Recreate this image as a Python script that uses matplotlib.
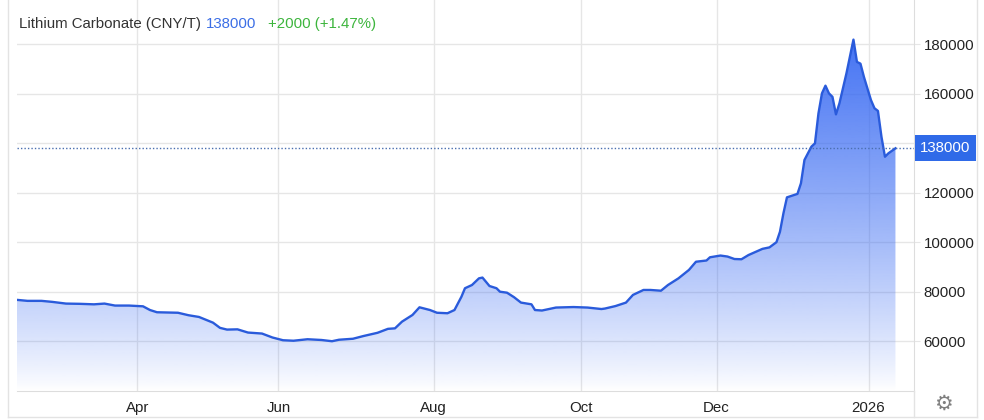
import matplotlib
matplotlib.use("Agg")
import matplotlib.pyplot as plt
import matplotlib.transforms as mtransforms
from matplotlib.patches import Rectangle
from matplotlib.lines import Line2D
import numpy as np

plt.rcParams['font.family'] = ['Liberation Sans', 'DejaVu Sans']

# Data (x = trading session index, price in CNY/T)
session = [0, 3, 7, 10, 14, 18, 22, 25, 28, 32, 36, 38, 40, 46, 49, 52, 56, 58, 60, 63,
           66, 70, 73, 76, 79, 83, 87, 90, 92, 96, 99, 103, 106, 108, 110, 113, 115, 118,
           120, 123, 125, 127, 128, 130, 132, 133, 135, 137, 138, 140, 142, 144, 147, 148,
           150, 154, 159, 163, 167, 168, 171, 174, 176, 179, 181, 184, 186, 189, 192, 194,
           197, 198, 201, 203, 205, 207, 209, 213, 215, 217, 218, 219, 220, 223, 224, 225,
           227, 228, 229, 230, 231, 232, 233, 234, 235, 237, 239, 240, 241, 242, 244, 245,
           246, 247, 248, 249, 251]
price = [76800, 76400, 76400, 76000, 75300, 75200, 75000, 75300, 74500, 74500, 74200, 72700,
         71800, 71600, 70600, 69900, 67600, 65500, 64800, 64900, 63600, 63200, 61600, 60500,
         60300, 60900, 60600, 60100, 60700, 61100, 62200, 63500, 65100, 65300, 68000, 70700,
         73800, 72700, 71600, 71400, 72700, 78100, 81500, 82800, 85500, 85800, 82400, 81500,
         80100, 79700, 77900, 75700, 75000, 72700, 72500, 73700, 73900, 73700, 73100, 73300,
         74300, 75700, 78800, 80800, 80800, 80500, 82800, 85500, 88900, 92200, 92700, 94000,
         94700, 94300, 93300, 93200, 94900, 97400, 98000, 100100, 104300, 111800, 118200,
         119600, 123900, 133300, 138700, 140000, 152100, 160200, 163300, 160200, 158800,
         151700, 156200, 168300, 181900, 172900, 172200, 166800, 157500, 154200, 153100,
         142700, 134600, 136000, 138000]

month_pos = [34.4, 74.7, 119.1, 161.1, 199.9, 243.3]
month_labels = ['Apr', 'Jun', 'Aug', 'Oct', 'Dec', '2026']
y_ticks = [60000, 80000, 100000, 120000, 140000, 160000, 180000]
last_price = 138000
change_text = '+2000 (+1.47%)'

W, H = 984, 420
fig = plt.figure(figsize=(W / 100, H / 100), dpi=100)
ax = fig.add_axes([17 / W, 29 / H, (914 - 17) / W, 391 / H])

ymin, ymax = 40000, 197900
ax.set_xlim(0, 256.3)
ax.set_ylim(ymin, ymax)

grid_c = '#e6e6e6'
ax.grid(True, color=grid_c, lw=1)
ax.set_axisbelow(True)
for s in ['top', 'left']:
    ax.spines[s].set_visible(False)
ax.spines['bottom'].set_color('#dddddd')
ax.spines['right'].set_color('#dddddd')

# gradient fill under the line
fill = ax.fill_between(session, price, ymin, color='none', lw=0)
grad = np.zeros((256, 1, 4))
grad[:, 0, 0] = 0.20
grad[:, 0, 1] = 0.40
grad[:, 0, 2] = 0.95
grad[:, 0, 3] = np.linspace(0.0, 1.0, 256) ** 0.85
im = ax.imshow(grad, extent=[0, 256.3, ymin, ymax], aspect='auto', origin='lower',
               zorder=2, interpolation='bilinear')
im.set_clip_path(fill.get_paths()[0], transform=ax.transData)
ax.plot(session, price, color='#2a5bdb', lw=1.7, zorder=3)

# last-price dotted line and label box
ax.axhline(last_price, color='#4a6fb0', lw=1, ls=(0, (1, 1.5)), zorder=4)
trans = mtransforms.blended_transform_factory(ax.transAxes, ax.transData)
ax.add_patch(Rectangle((1.001, last_price - 5250), 0.068, 10500, transform=trans,
                       facecolor='#2f6ae8', edgecolor='none', clip_on=False, zorder=5))
ax.text(1.035, last_price, f'{last_price}', transform=trans, ha='center', va='center',
        color='white', fontsize=10.8, zorder=6, clip_on=False)

# ticks
ax.yaxis.tick_right()
ax.set_yticks(y_ticks)
ax.set_yticklabels(['' if v == 140000 else str(v) for v in y_ticks])
ax.tick_params(axis='y', length=4, color=grid_c, pad=3, labelsize=10.8, labelcolor='#222222')
ax.set_xticks(month_pos)
ax.set_xticklabels(month_labels)
ax.tick_params(axis='x', length=0, pad=7, labelsize=10.8, labelcolor='#222222')

# title
fig.text(19 / W, 1 - 24 / H, 'Lithium Carbonate (CNY/T)', fontsize=10.8, color='#333333', va='center')
fig.text(206 / W, 1 - 24 / H, f'{last_price}', fontsize=10.8, color='#3b6ee6', va='center')
fig.text(268 / W, 1 - 24 / H, change_text, fontsize=10.8, color='#3db53d', va='center')

# outer frame
frame_c = '#e3e3e3'
fig.add_artist(Line2D([8 / W, 8 / W], [3 / H, 1], color=frame_c, lw=1))
fig.add_artist(Line2D([8 / W, 977 / W], [3 / H, 3 / H], color=frame_c, lw=1))
fig.add_artist(Line2D([977 / W, 977 / W], [3 / H, 1], color=frame_c, lw=1))
fig.add_artist(Line2D([914 / W, 914 / W], [3 / H, 29 / H], color=frame_c, lw=1))
fig.text(943 / W, 1 - 404 / H, '\u2699', fontsize=15, color='#808080', ha='center', va='center',
         family='DejaVu Sans')

fig.savefig('out.png', dpi=100)
